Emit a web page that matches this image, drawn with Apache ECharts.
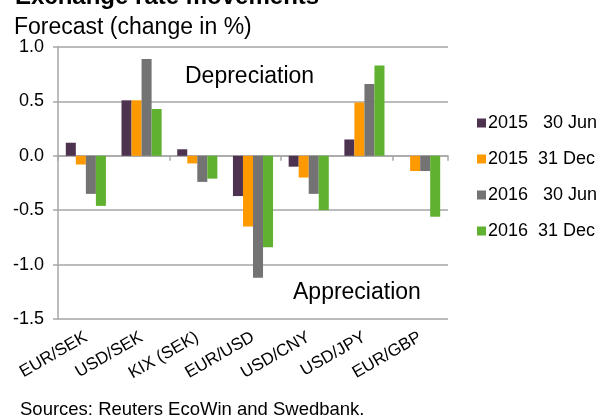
<!DOCTYPE html>
<html>
<head>
<meta charset="utf-8">
<script src="https://cdn.jsdelivr.net/npm/echarts@6/dist/echarts.min.js"></script>
<style>
  html, body { margin: 0; padding: 0; background: #fff; }
  #chart { width: 605px; height: 416px; }
</style>
</head>
<body>
<div id="chart"></div>
<script>
var categories = ['EUR/SEK', 'USD/SEK', 'KIX (SEK)', 'EUR/USD', 'USD/CNY', 'USD/JPY', 'EUR/GBP'];
var seriesNames = ['2015   30 Jun', '2015  31 Dec', '2016   30 Jun', '2016  31 Dec'];
var jun2015 = [0.12, 0.51, 0.06, -0.37, -0.10, 0.15, 0];
var dec2015 = [-0.08, 0.51, -0.07, -0.65, -0.20, 0.49, -0.14];
var jun2016 = [-0.35, 0.89, -0.24, -1.12, -0.35, 0.66, -0.14];
var dec2016 = [-0.46, 0.43, -0.21, -0.84, -0.50, 0.83, -0.56];
var colors = ['#4e3350', '#ff9900', '#737373', '#5fb12f'];

var font = 'Liberation Sans, Arial, sans-serif';
var grey = '#a6a6a6';

var chart = echarts.init(document.getElementById('chart'));
var allData = [jun2015, dec2015, jun2016, dec2016];

chart.setOption({
  animation: false,
  color: colors,
  textStyle: { fontFamily: font, color: '#000' },
  title: [
    { text: 'Exchange rate movements', left: 10, top: -20,
      textStyle: { fontFamily: font, fontSize: 24, fontWeight: 'bold', color: '#000' } },
    { text: 'Forecast (change in %)', left: 9, top: 11,
      textStyle: { fontFamily: font, fontSize: 23, fontWeight: 'normal', color: '#000' } }
  ],
  legend: {
    orient: 'vertical',
    left: 477,
    top: 114,
    padding: 0,
    itemWidth: 9,
    itemHeight: 9,
    itemGap: 18,
    icon: 'rect',
    textStyle: { fontFamily: font, fontSize: 18, color: '#000', padding: [0, 0, 0, -3] },
    data: seriesNames
  },
  grid: { left: 58, right: 157, top: 47, bottom: 97 },
  xAxis: [{
    type: 'category',
    data: categories,
    position: 'bottom',
    axisLine: { show: false, onZero: false },
    axisTick: { show: false },
    axisLabel: { rotate: 30, fontSize: 17, fontFamily: font, color: '#000', margin: 17, interval: 0 }
  }, {
    type: 'category',
    data: categories,
    position: 'bottom',
    axisLine: { show: true, onZero: true, lineStyle: { color: grey, width: 1.5 } },
    axisTick: { show: true, length: 5, lineStyle: { color: grey, width: 1.5 } },
    axisLabel: { show: false }
  }],
  yAxis: {
    type: 'value',
    min: -1.5,
    max: 1.0,
    interval: 0.5,
    axisLine: { show: true, lineStyle: { color: grey, width: 1.5 } },
    axisTick: { show: true, length: 5, lineStyle: { color: grey, width: 1.5 } },
    splitLine: { show: true, lineStyle: { color: grey, width: 1.5 } },
    axisLabel: {
      fontSize: 18, fontFamily: font, color: '#000', margin: 14,
      formatter: function (v) { return v.toFixed(1); }
    }
  },
  graphic: [
    { type: 'text', left: 185, top: 65,
      style: { text: 'Depreciation', fontSize: 23, fontFamily: font, fill: '#000' } },
    { type: 'text', left: 293, top: 281,
      style: { text: 'Appreciation', fontSize: 23, fontFamily: font, fill: '#000' } },
    { type: 'text', left: 20, top: 400,
      style: { text: 'Sources: Reuters EcoWin and Swedbank.', fontSize: 18.5, fontFamily: font, fill: '#000' } }
  ],
  series: seriesNames.map(function (name, i) {
    return {
      name: name,
      type: 'bar',
      data: allData[i],
      barGap: '0%',
      barCategoryGap: '28%',
      itemStyle: { color: colors[i] }
    };
  })
});
</script>
</body>
</html>
